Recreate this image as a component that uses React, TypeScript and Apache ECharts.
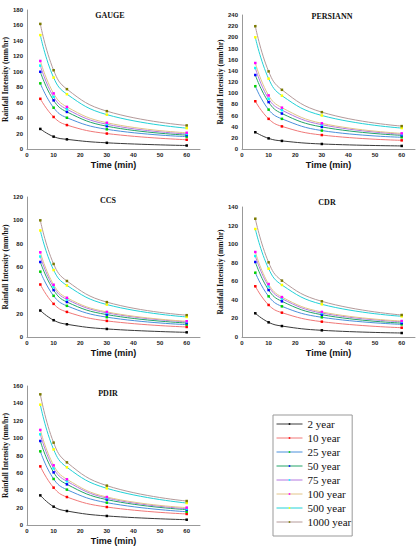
import React, { useEffect, useRef } from "react";
import * as echarts from "echarts";

const durations = [5, 10, 15, 30, 60];
const returnPeriods = ["2 year", "10 year", "25 year", "50 year", "75 year", "100 year", "500 year", "1000 year"];

const gaugeValues = [
  [26, 16, 12.5, 8, 4.5],
  [65, 41.5, 31, 20, 12],
  [85, 53.5, 40.5, 25.5, 16],
  [100, 63, 48, 29.5, 18],
  [108, 67.5, 51.5, 32, 19.5],
  [114, 72, 54.5, 34, 21],
  [147.5, 92.5, 71, 44.5, 27],
  [162, 102, 77.5, 49, 30.5],
];
const persiannValues = [
  [30, 19, 14.5, 9, 5.5],
  [85.5, 54, 40.5, 25, 15.5],
  [112.5, 70.5, 54, 33, 21],
  [132.5, 84, 63.5, 39.5, 24.5],
  [145, 90, 69.5, 43.5, 26.5],
  [154, 96, 74, 46, 28],
  [200, 126, 95.5, 60, 37.5],
  [220, 139, 106, 66, 41],
];
const ccsValues = [
  [22.7, 14.4, 10.9, 6.9, 4],
  [45, 28.4, 21.5, 13.8, 8.6],
  [56, 35.3, 26.7, 17, 10.6],
  [64.3, 40.2, 30, 19.2, 12],
  [69, 42.8, 32.2, 20.7, 13],
  [72.6, 44.8, 33.6, 21.5, 13.5],
  [91.3, 57.4, 44.2, 27.8, 17.2],
  [100, 62.6, 48, 29.9, 18.7],
];
const cdrValues = [
  [25.5, 15.8, 11.8, 7.2, 4.3],
  [54.6, 34.5, 26.2, 16.5, 10],
  [69.3, 43.8, 33, 21.2, 13.6],
  [80.8, 50.6, 38.4, 24, 15],
  [87.2, 54.6, 41.3, 25.8, 16.5],
  [91.5, 57, 43, 27, 17.2],
  [116.3, 73.6, 56, 35.2, 22.3],
  [127.4, 80.4, 60.7, 38.4, 23.7],
];
const pdirValues = [
  [34.1, 21.1, 16.1, 10.4, 6.1],
  [67.5, 43, 32.2, 20.7, 12.7],
  [84.8, 53, 40.7, 25.7, 15.3],
  [96.7, 60.6, 46.8, 29.2, 17.7],
  [104.4, 65.2, 50.3, 31, 18.8],
  [109.4, 68.7, 52.6, 32.2, 20],
  [138.5, 87, 66.4, 42.2, 25.3],
  [150.4, 94.8, 72.1, 45.3, 27.6],
];

const panelNames = ["GAUGE", "PERSIANN", "CCS", "CDR", "PDIR"];
const panelData = [gaugeValues, persiannValues, ccsValues, cdrValues, pdirValues];
const panelYMax = [180, 240, 120, 140, 160];

const lineColors = ["#3a3a3a", "#f07878", "#4a90dc", "#22a468", "#b478e0", "#e2c488", "#22d2d8", "#b49a9a"];
const markerColors = ["#000000", "#ff0000", "#00d000", "#0000ff", "#00ffff", "#ff00ff", "#ffff00", "#7a7a00"];

// layout (pixels)
const grids = [
  { left: 27, top: 10, width: 173, height: 139 },
  { left: 242, top: 15, width: 173, height: 134 },
  { left: 27, top: 197, width: 173, height: 140 },
  { left: 242, top: 207, width: 173, height: 130 },
  { left: 27, top: 386, width: 173, height: 139 },
];
const titlePos = [
  [110, 15],
  [332, 16],
  [108, 200],
  [327, 202],
  [108, 393],
];

const SERIF = "'Liberation Serif', 'Times New Roman', serif";
const SANS = "'Liberation Sans', Arial, sans-serif";

export default function App() {
  const ref = useRef<HTMLDivElement>(null);
  useEffect(() => {
    if (!ref.current) return;
    const chart = echarts.init(ref.current, null, { renderer: "svg" });
    const xAxes: any[] = [];
    const yAxes: any[] = [];
    const series: any[] = [];
    grids.forEach((g, i) => {
      xAxes.push({
        gridIndex: i,
        type: "value",
        min: 0,
        max: 65,
        interval: 10,
        name: "Time (min)",
        nameLocation: "middle",
        nameGap: 11,
        nameTextStyle: { fontFamily: SANS, fontWeight: "bold", fontSize: 9, color: "#111" },
        axisLine: { lineStyle: { color: "#999", width: 1 } },
        axisTick: { show: false },
        splitLine: { show: false },
        axisLabel: {
          fontFamily: SANS,
          fontWeight: "bold",
          fontSize: 6,
          color: "#222",
          margin: 3,
          formatter: (v: number) => (v > 60 ? "" : String(v)),
        },
      });
      yAxes.push({
        gridIndex: i,
        type: "value",
        min: 0,
        max: panelYMax[i],
        interval: 20,
        name: "Rainfall Intensity (mm/hr)",
        nameLocation: "middle",
        nameGap: 16,
        nameTextStyle: { fontFamily: SERIF, fontWeight: "bold", fontSize: 7.5, color: "#111" },
        axisLine: { show: true, lineStyle: { color: "#999", width: 1 } },
        axisTick: { show: false },
        splitLine: { show: false },
        axisLabel: { fontFamily: SANS, fontWeight: "bold", fontSize: 6, color: "#222", margin: 4 },
      });
      panelData[i].forEach((vals, k) => {
        series.push({
          type: "line",
          name: returnPeriods[k],
          xAxisIndex: i,
          yAxisIndex: i,
          data: durations.map((d, j) => [d, vals[j]]),
          smooth: 0.45,
          symbol: "rect",
          symbolSize: 2.5,
          lineStyle: { color: lineColors[k], width: 1 },
          itemStyle: { color: markerColors[k] },
          z: 2 + k,
        });
      });
    });
    chart.setOption({
      animation: false,
      backgroundColor: "#ffffff",
      grid: grids.map((g) => ({ ...g, containLabel: false })),
      xAxis: xAxes,
      yAxis: yAxes,
      series,
      legend: {
        data: returnPeriods,
        orient: "vertical",
        left: 273,
        top: 415,
        itemWidth: 26,
        itemHeight: 2,
        itemGap: 2,
        padding: [3, 1, 8, 3],
        borderColor: "#999",
        borderWidth: 1,
        selectedMode: false,
        lineStyle: { width: 1 },
        itemStyle: { borderWidth: 0 },
        textStyle: { fontFamily: SERIF, fontSize: 11, color: "#111", lineHeight: 12, padding: [0, 0, 0, 0] },
      },
      graphic: panelNames.map((n, i) => ({
        type: "text",
        x: titlePos[i][0],
        y: titlePos[i][1],
        style: {
          text: n,
          align: "center",
          verticalAlign: "middle",
          font: `bold 8px ${SERIF}`,
          fill: "#111",
        },
      })),
    });
    return () => chart.dispose();
  }, []);
  return <div ref={ref} style={{ position: "fixed", left: 0, top: 0, width: 419, height: 550 }} />;
}
